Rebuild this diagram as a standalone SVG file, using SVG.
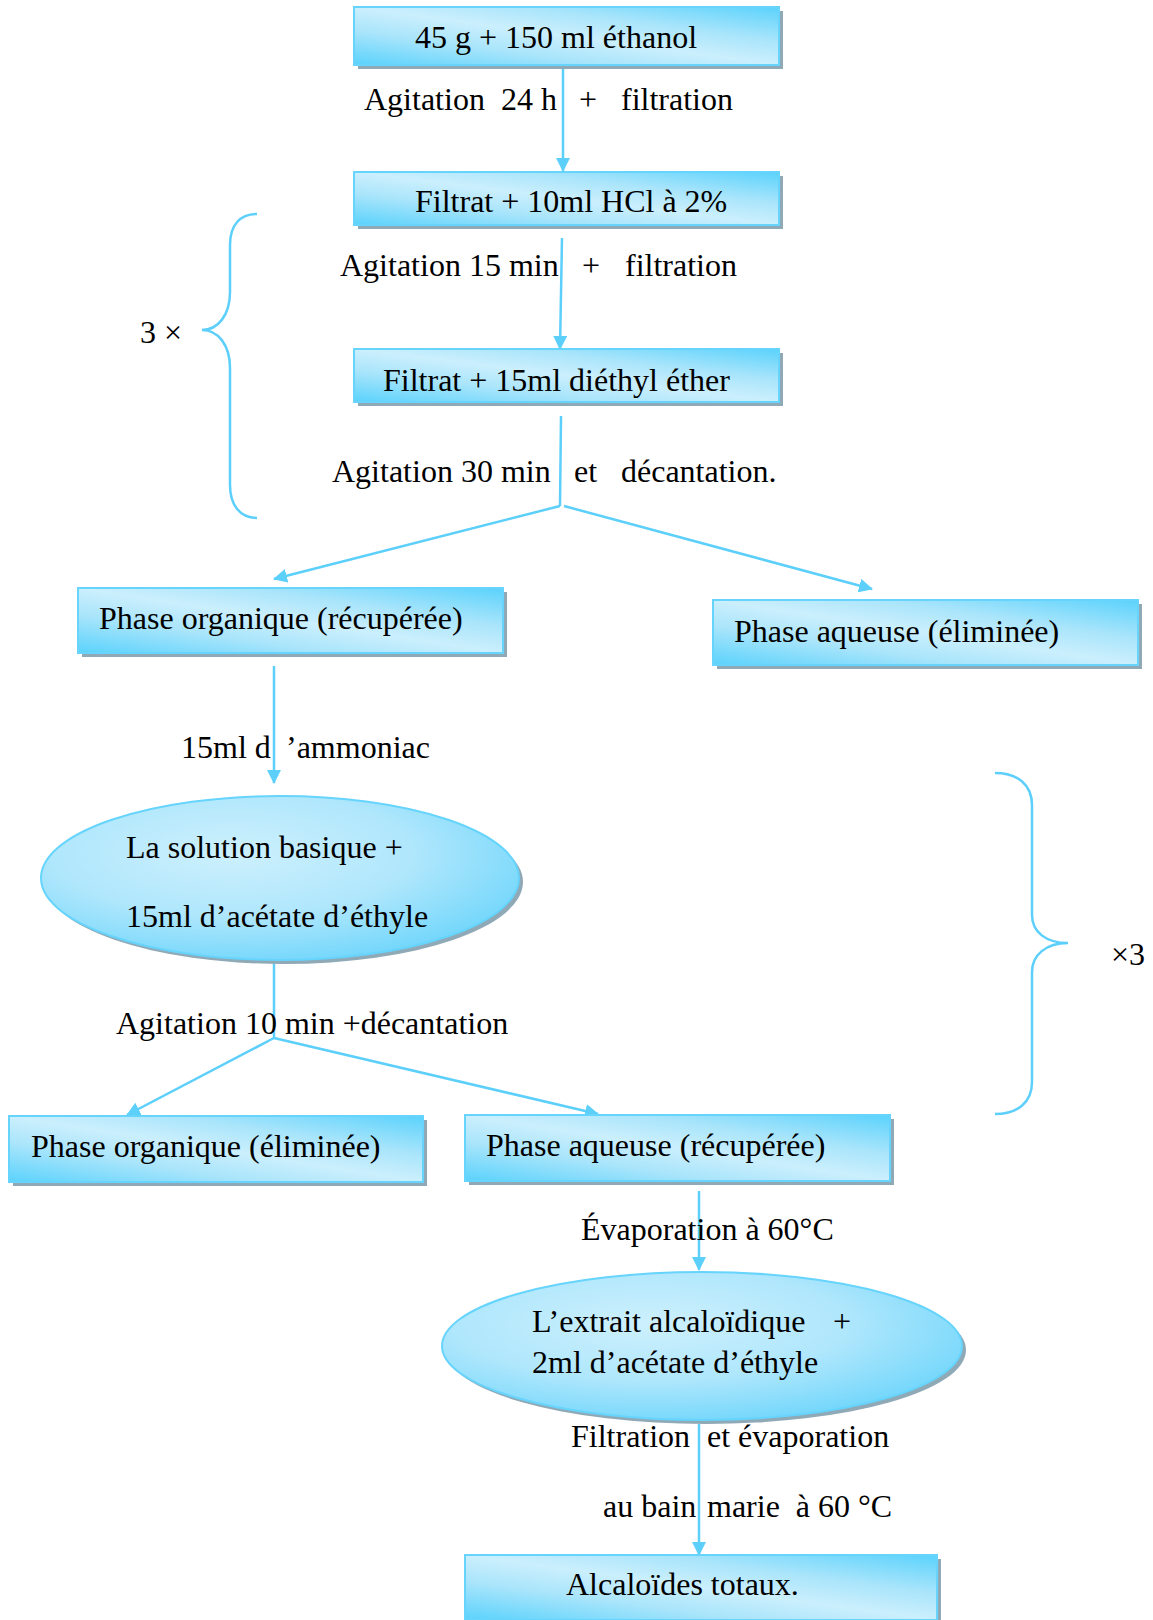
<svg xmlns="http://www.w3.org/2000/svg" width="1153" height="1620" viewBox="0 0 1153 1620">
<defs>
<linearGradient id="gbox" x1="1" y1="0" x2="0" y2="1">
<stop offset="0" stop-color="#5ad2fc"/>
<stop offset="0.3" stop-color="#aae5fb"/>
<stop offset="0.5" stop-color="#cbeffd"/>
<stop offset="0.7" stop-color="#aae5fb"/>
<stop offset="1" stop-color="#5ad2fc"/>
</linearGradient>
<radialGradient id="gell" cx="0.4" cy="0.35" r="0.75">
<stop offset="0" stop-color="#cdf0fd"/>
<stop offset="0.5" stop-color="#b0e7fc"/>
<stop offset="1" stop-color="#66d3fb"/>
</radialGradient>
<marker id="ah" viewBox="0 0 14 14" refX="13" refY="7" markerWidth="14" markerHeight="14" markerUnits="userSpaceOnUse" orient="auto">
<path d="M0,0 L14,7 L0,14 z" fill="#5ccffb"/>
</marker>
<style>
.box{fill:url(#gbox);stroke:#66d4fc;stroke-width:2}
.ell{fill:url(#gell);stroke:#66d4fc;stroke-width:2}
.sh{fill:#8fa9b6}
.t{font-family:"Liberation Serif","Times New Roman",serif;font-size:32px;fill:#000}
.c{fill:none;stroke:#5ccffb;stroke-width:2.5}
</style>
</defs>
<rect width="1153" height="1620" fill="#fff"/>

<g id="connectors">
<line class="c" x1="563" y1="67" x2="563" y2="171" marker-end="url(#ah)"/>
<line class="c" x1="562" y1="238" x2="560" y2="349" marker-end="url(#ah)"/>
<polyline class="c" points="561,416 560,506"/>
<line class="c" x1="560" y1="506" x2="274" y2="579" marker-end="url(#ah)"/>
<line class="c" x1="564" y1="506" x2="872" y2="589" marker-end="url(#ah)"/>
<line class="c" x1="274" y1="666" x2="274" y2="783" marker-end="url(#ah)"/>
<line class="c" x1="274" y1="962" x2="274" y2="1038"/>
<line class="c" x1="274" y1="1038" x2="127" y2="1115" marker-end="url(#ah)"/>
<line class="c" x1="274" y1="1038" x2="598" y2="1114" marker-end="url(#ah)"/>
<line class="c" x1="699" y1="1191" x2="699" y2="1270" marker-end="url(#ah)"/>
<line class="c" x1="699" y1="1424" x2="699" y2="1555" marker-end="url(#ah)"/>
<path class="c" d="M257,214 C240,214 230,225 230,245 L230,292 C230,315 218,330 202,330 C218,330 230,345 230,368 L230,485 C230,505 240,518 257,518"/>
<path class="c" d="M995,773 C1018,773 1032,785 1032,805 L1032,915 C1032,932 1046,943 1068,943 C1046,943 1032,955 1032,972 L1032,1082 C1032,1102 1018,1114 995,1114"/>
</g>

<g id="n1">
<rect class="sh" x="358" y="11" width="425" height="58"/>
<rect class="box" x="354" y="7" width="425" height="58"/>
<text class="t" x="415" y="48">45 g + 150 ml éthanol</text>
</g>
<g id="n2">
<rect class="sh" x="358" y="176" width="425" height="53"/>
<rect class="box" x="354" y="172" width="425" height="53"/>
<text class="t" x="415" y="212">Filtrat + 10ml HCl à 2%</text>
</g>
<g id="n3">
<rect class="sh" x="358" y="353" width="425" height="53"/>
<rect class="box" x="354" y="349" width="425" height="53"/>
<text class="t" x="383" y="391">Filtrat + 15ml diéthyl éther</text>
</g>
<g id="n4">
<rect class="sh" x="82" y="592" width="425" height="65"/>
<rect class="box" x="78" y="588" width="425" height="65"/>
<text class="t" x="99" y="629">Phase organique (récupérée)</text>
</g>
<g id="n5">
<rect class="sh" x="717" y="604" width="425" height="65"/>
<rect class="box" x="713" y="600" width="425" height="65"/>
<text class="t" x="734" y="642">Phase aqueuse (éliminée)</text>
</g>
<g id="n6">
<ellipse class="sh" cx="284" cy="882" rx="239" ry="82"/>
<ellipse class="ell" cx="280" cy="878" rx="239" ry="82"/>
<text class="t" x="126" y="858">La solution basique +</text>
<text class="t" x="126" y="927">15ml d’acétate d’éthyle</text>
</g>
<g id="n7">
<rect class="sh" x="13" y="1120" width="414" height="66"/>
<rect class="box" x="9" y="1116" width="414" height="66"/>
<text class="t" x="31" y="1157">Phase organique (éliminée)</text>
</g>
<g id="n8">
<rect class="sh" x="469" y="1119" width="425" height="66"/>
<rect class="box" x="465" y="1115" width="425" height="66"/>
<text class="t" x="486" y="1156">Phase aqueuse (récupérée)</text>
</g>
<g id="n9">
<ellipse class="sh" cx="706" cy="1350" rx="260" ry="74"/>
<ellipse class="ell" cx="702" cy="1346" rx="260" ry="74"/>
<text class="t" x="532" y="1332">L’extrait alcaloïdique<tspan x="833">+</tspan></text>
<text class="t" x="532" y="1373">2ml d’acétate d’éthyle</text>
</g>
<g id="n10">
<rect class="sh" x="469" y="1559" width="472" height="65"/>
<rect class="box" x="465" y="1555" width="472" height="65"/>
<text class="t" x="566" y="1595">Alcaloïdes totaux.</text>
</g>

<g id="labels">
<text class="t" x="364" y="110" xml:space="preserve">Agitation  24 h<tspan x="579">+</tspan><tspan x="621">filtration</tspan></text>
<text class="t" x="340" y="276">Agitation 15 min<tspan x="582">+</tspan><tspan x="625">filtration</tspan></text>
<text class="t" x="332" y="482">Agitation 30 min<tspan x="574">et</tspan><tspan x="621">décantation.</tspan></text>
<text class="t" x="181" y="758">15ml d<tspan x="286">’ammoniac</tspan></text>
<text class="t" x="116" y="1034">Agitation 10 min +décantation</text>
<text class="t" x="581" y="1240">Évaporation à 60°C</text>
<text class="t" x="571" y="1447">Filtration<tspan x="707">et évaporation</tspan></text>
<text class="t" x="603" y="1517">au bain<tspan x="707" xml:space="preserve">marie  à 60 °C</tspan></text>
<text class="t" x="140" y="343">3 ×</text>
<text class="t" x="1111" y="965">×3</text>
</g>
</svg>
